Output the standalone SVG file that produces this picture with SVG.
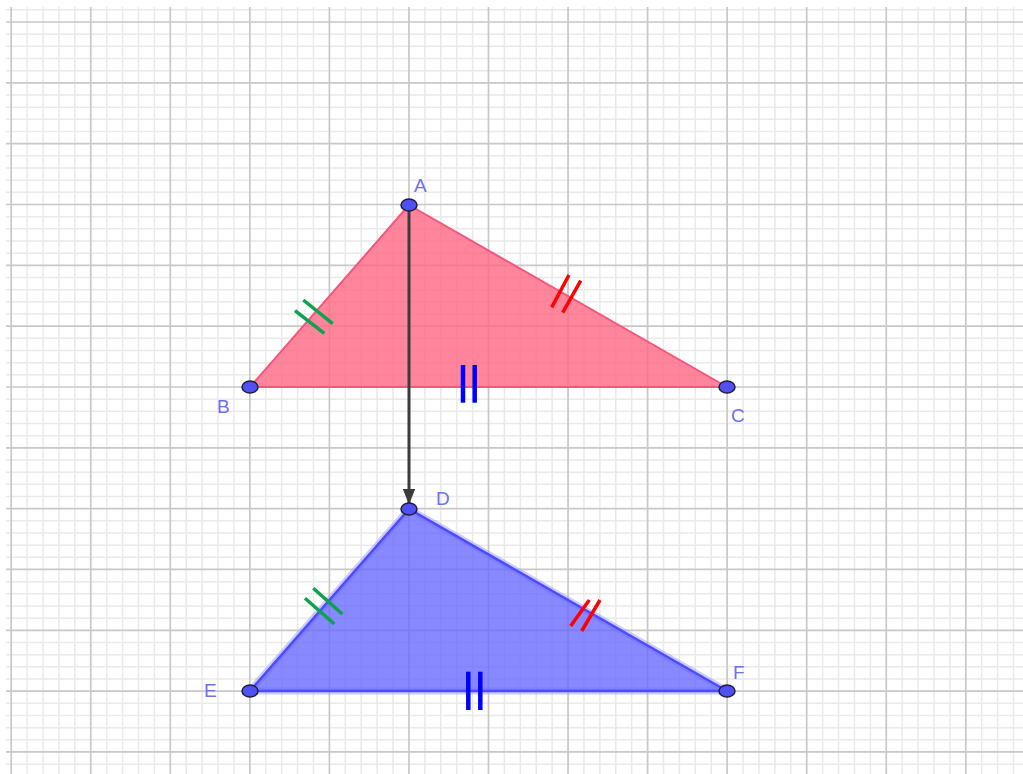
<svg xmlns="http://www.w3.org/2000/svg" width="1023" height="774" viewBox="0 0 1023 774">
<defs>
<style>
.minor{stroke:#e9e9e9;stroke-width:1.5;fill:none}
.major{stroke:#c8c8c8;stroke-width:1.7;fill:none}
.lbl{font-family:"Liberation Sans",Arial,sans-serif;font-size:19px;fill:#6f6ff0}
.pt{fill:#5050f5;stroke:#1e1e3a;stroke-width:1.5}
.tg{stroke:#0da150;stroke-width:3.5;stroke-linecap:butt}
.tr{stroke:#ff0000;stroke-width:3.5}
.tb{stroke:#0000ff;stroke-width:4.5}
</style>
<marker id="ah" viewBox="0 0 10 8" refX="9" refY="4" markerWidth="5.3" markerHeight="4.2" orient="auto" markerUnits="strokeWidth">
<path d="M0,0 L10,4 L0,8 Z" fill="#3c3c3c"/>
</marker>
</defs>
<rect width="1023" height="774" fill="#ffffff"/>
<g id="grid">
<path class="minor" d="M27.11,7V774M43.02,7V774M58.93,7V774M74.84,7V774M106.66,7V774M122.57,7V774M138.48,7V774M154.39,7V774M186.21,7V774M202.12,7V774M218.03,7V774M233.94,7V774M265.76,7V774M281.67,7V774M297.58,7V774M313.49,7V774M345.31,7V774M361.22,7V774M377.13,7V774M393.04,7V774M424.86,7V774M440.77,7V774M456.68,7V774M472.59,7V774M504.41,7V774M520.32,7V774M536.23,7V774M552.14,7V774M583.96,7V774M599.87,7V774M615.78,7V774M631.69,7V774M663.51,7V774M679.42,7V774M695.33,7V774M711.24,7V774M743.06,7V774M758.97,7V774M774.88,7V774M790.79,7V774M822.61,7V774M838.52,7V774M854.43,7V774M870.34,7V774M902.16,7V774M918.07,7V774M933.98,7V774M949.89,7V774M981.71,7V774M997.62,7V774M1013.53,7V774
M6,9.83H1023M6,34.17H1023M6,46.33H1023M6,58.5H1023M6,70.66H1023M6,95H1023M6,107.16H1023M6,119.33H1023M6,131.49H1023M6,155.83H1023M6,167.99H1023M6,180.16H1023M6,192.32H1023M6,216.66H1023M6,228.82H1023M6,240.99H1023M6,253.15H1023M6,277.49H1023M6,289.65H1023M6,301.82H1023M6,313.98H1023M6,338.32H1023M6,350.48H1023M6,362.65H1023M6,374.81H1023M6,399.15H1023M6,411.31H1023M6,423.48H1023M6,435.64H1023M6,459.98H1023M6,472.14H1023M6,484.31H1023M6,496.47H1023M6,520.81H1023M6,532.97H1023M6,545.14H1023M6,557.3H1023M6,581.64H1023M6,593.8H1023M6,605.97H1023M6,618.13H1023M6,642.47H1023M6,654.63H1023M6,666.8H1023M6,678.96H1023M6,703.3H1023M6,715.46H1023M6,727.63H1023M6,739.79H1023M6,764.13H1023"/>
<path class="major" d="M11.2,7V774M90.75,7V774M170.3,7V774M249.85,7V774M329.4,7V774M408.95,7V774M488.5,7V774M568.05,7V774M647.6,7V774M727.15,7V774M806.7,7V774M886.25,7V774M965.8,7V774
M6,22H1023M6,82.83H1023M6,143.66H1023M6,204.49H1023M6,265.32H1023M6,326.15H1023M6,386.98H1023M6,447.81H1023M6,508.64H1023M6,569.47H1023M6,630.3H1023M6,691.13H1023M6,751.96H1023"/>
</g>
<g id="triangle-ABC">
<polygon points="409,205 250,387 727,387" fill="#ff6685" fill-opacity="0.8" stroke="#f5577a" stroke-width="2" stroke-linejoin="round"/>
</g>
<g id="triangle-DEF">
<polygon points="409,509 250,691 727,691" fill="none" stroke="#9a9aff" stroke-opacity="0.5" stroke-width="7" stroke-linejoin="round"/>
<polygon points="409,509 250,691 727,691" fill="#6666ff" fill-opacity="0.78" stroke="#4b4bff" stroke-width="2.5" stroke-linejoin="round"/>
</g>
<g id="connectors">
<line x1="409" y1="205" x2="409" y2="503" stroke="#3c3c3c" stroke-width="3" marker-end="url(#ah)"/>
</g>
<g id="ticks">
<line class="tg" x1="303.3" y1="300" x2="332.7" y2="323.7"/>
<line class="tg" x1="295" y1="310.7" x2="324.3" y2="333.3"/>
<line class="tr" x1="569" y1="275" x2="551.7" y2="307.3"/>
<line class="tr" x1="580.7" y1="280.7" x2="562.7" y2="312.7"/>
<line class="tb" x1="463" y1="365" x2="463" y2="402.7"/>
<line class="tb" x1="474.7" y1="365" x2="474.7" y2="402.7"/>
<line class="tg" x1="313.3" y1="588.3" x2="342.3" y2="614"/>
<line class="tg" x1="305" y1="598.3" x2="334.3" y2="624"/>
<line class="tr" x1="589.3" y1="600" x2="570.7" y2="626"/>
<line class="tr" x1="600" y1="600" x2="581.7" y2="631"/>
<line class="tb" x1="468.3" y1="671.7" x2="468.3" y2="710"/>
<line class="tb" x1="480.3" y1="671.7" x2="480.3" y2="710"/>
</g>
<g id="node-A"><ellipse class="pt" cx="409" cy="205" rx="8" ry="6"/><text class="lbl" x="414" y="192">A</text></g>
<g id="node-B"><ellipse class="pt" cx="250" cy="387" rx="8" ry="6"/><text class="lbl" x="217" y="413">B</text></g>
<g id="node-C"><ellipse class="pt" cx="727" cy="387" rx="8" ry="6"/><text class="lbl" x="731" y="422">C</text></g>
<g id="node-D"><ellipse class="pt" cx="409" cy="509" rx="8" ry="6"/><text class="lbl" x="436" y="505">D</text></g>
<g id="node-E"><ellipse class="pt" cx="250" cy="691" rx="8" ry="6"/><text class="lbl" x="204" y="697">E</text></g>
<g id="node-F"><ellipse class="pt" cx="727" cy="691" rx="8" ry="6"/><text class="lbl" x="733" y="679">F</text></g>
</svg>
